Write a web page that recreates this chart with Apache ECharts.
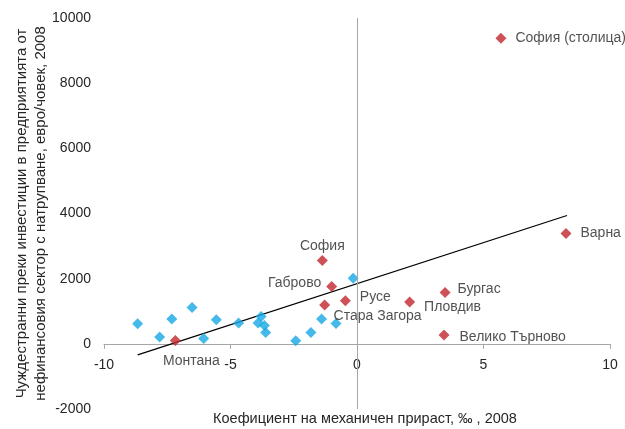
<!DOCTYPE html>
<html lang="bg">
  <head>
    <meta charset="UTF-8" />
    <title>ПЧИ и механичен прираст</title>
    <script src="https://cdn.jsdelivr.net/npm/echarts@6/dist/echarts.min.js"></script>
    <style>
      body { margin: 0; background: #fff; }
    </style>
  </head>
  <body>
    <div id="main" style="width: 625px; height: 429px"></div>
  </body>
  <script>
    // области без надпис (коефициент на механичен прираст, ПЧИ евро/човек)
    const otherRegions = [
      [-8.67, 615],
      [-7.8, 206],
      [-7.32, 760],
      [-6.52, 1117],
      [-6.06, 163],
      [-5.56, 738],
      [-4.68, 637],
      [-3.91, 637],
      [-3.79, 840],
      [-3.66, 563],
      [-3.61, 348],
      [-2.42, 92],
      [-1.82, 348],
      [-1.4, 760],
      [-0.83, 625],
      [-0.15, 2009],
    ];

    // области с надпис
    const namedRegions = ["София (столица)", "Варна", "Бургас", "Пловдив", "Велико Търново", "Русе", "Стара Загора", "Габрово", "София", "Монтана"];
    const namedX = [5.69, 8.26, 3.48, 2.08, 3.44, -0.46, -1.28, -1.0, -1.37, -7.18];
    const namedY = [9375, 3385, 1579, 1283, 268, 1323, 1191, 1763, 2554, 102];

    // линеен тренд
    const trendLine = [
      [-8.67, -340],
      [8.3, 3940],
    ];

    const yTitle = "Чуждестранни преки инвестиции в предприятията от\nнефинансовия сектор с натрупване, евро/човек, 2008";
    const xTitle = "Коефициент на механичен прираст, ‰ , 2008";

    const yMin = -2000;
    const yMax = 10000;

    const blue = "#16a9e5";
    const red = "#c2262d";
    const textColor = "#262626";
    const font = "Liberation Sans";

    const gridTop = 18;
    const gridBottom = 20;
    const gridHeight = 429 - gridTop - gridBottom;
    // оста X минава през y = 0, надписите остават под нея
    const xAxisShift = -gridHeight * (0 - yMin) / (yMax - yMin);

    // къде стои надписът спрямо точката
    const labelPos = {
      "София (столица)": { position: "right", offset: [1, 0] },
      "Варна": { position: "right", offset: [1, 0] },
      "Бургас": { position: "right", offset: [-1, -3] },
      "Пловдив": { position: "right", offset: [1, 5] },
      "Велико Търново": { position: "right", offset: [2, 2] },
      "Русе": { position: "right", offset: [1, -4] },
      "Стара Загора": { position: "bottom", offset: [53, -9] },
      "Габрово": { position: "left", offset: [3, -3] },
      "София": { position: "top", offset: [0, 6] },
      "Монтана": { position: "bottom", offset: [16, 0] },
    };

    var myChart = echarts.init(document.getElementById("main"));

    var option = {
      animation: false,
      textStyle: { fontFamily: font },
      grid: { left: 104, right: 15, top: gridTop, bottom: gridBottom, outerBoundsMode: "none", containLabel: false },
      xAxis: {
        type: "value",
        min: -10,
        max: 10,
        interval: 5,
        position: "bottom",
        offset: xAxisShift,
        name: xTitle,
        nameLocation: "middle",
        nameGap: 68,
        nameMoveOverlap: false,
        nameTextStyle: { fontSize: 14.5, color: textColor, padding: [0, 0, 0, 16] },
        axisLine: { onZero: false, lineStyle: { color: "#a6a6a6" } },
        axisTick: { show: true, length: 5, lineStyle: { color: "#a6a6a6" } },
        axisLabel: { fontSize: 14, color: textColor, margin: 14 },
        splitLine: { show: false },
      },
      yAxis: {
        type: "value",
        min: yMin,
        max: yMax,
        interval: 2000,
        name: yTitle,
        nameLocation: "middle",
        nameRotate: 90,
        nameGap: 54,
        nameMoveOverlap: false,
        nameTextStyle: { fontSize: 15, color: textColor, lineHeight: 19 },
        axisLine: { show: false },
        axisTick: { show: false },
        axisLabel: { fontSize: 14, color: textColor, margin: 13, formatter: (v) => String(v) },
        splitLine: { show: false },
      },
      series: [
        {
          name: "тренд",
          type: "line",
          data: trendLine,
          showSymbol: false,
          lineStyle: { color: "#000", width: 1.2 },
          silent: true,
          z: 1,
          markLine: {
            silent: true,
            symbol: "none",
            label: { show: false },
            lineStyle: { color: "#a6a6a6", type: "solid", width: 1 },
            data: [{ xAxis: 0 }],
          },
        },
        {
          name: "области",
          type: "scatter",
          symbol: "diamond",
          symbolSize: 11,
          itemStyle: { color: blue },
          data: otherRegions,
          z: 3,
        },
        {
          name: "области с надпис",
          type: "scatter",
          symbol: "diamond",
          symbolSize: 11,
          itemStyle: { color: red },
          z: 4,
          data: namedRegions.map((n, i) => ({
            name: n,
            value: [namedX[i], namedY[i]],
            label: {
              show: true,
              formatter: "{b}",
              fontSize: 14,
              color: textColor,
              distance: 8,
              ...labelPos[n],
            },
          })),
        },
      ],
    };

    myChart.setOption(option);
  </script>
</html>
